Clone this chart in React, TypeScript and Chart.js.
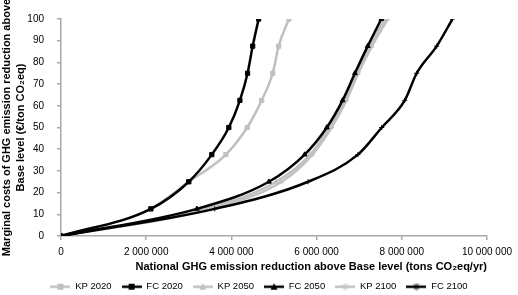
import React, { useEffect, useRef } from "react";
import { Chart, registerables } from "chart.js";

Chart.register(...registerables);

const costLevels = [0, 12.5, 25, 37.5, 50, 62.5, 75, 87.5, 100];

const kp2020 = [0, 2110000, 3000000, 3870000, 4370000, 4710000, 4970000, 5110000, 5350000];
const fc2020 = [0, 2110000, 3000000, 3540000, 3940000, 4200000, 4380000, 4500000, 4640000];
const kp2050 = [0, 3400000, 5050000, 5850000, 6300000, 6650000, 6930000, 7250000, 7600000];
const fc2050 = [0, 3190000, 4880000, 5720000, 6240000, 6610000, 6900000, 7200000, 7520000];
const kp2100 = [0, 3500000, 5180000, 5900000, 6350000, 6700000, 6980000, 7300000, 7670000];
const fc2100 = [0, 3610000, 5800000, 6970000, 7530000, 8070000, 8350000, 8820000, 9190000];

const seriesNames = ["KP 2020", "FC 2020", "KP 2050", "FC 2050", "KP 2100", "FC 2100"];
const seriesValues = [kp2020, fc2020, kp2050, fc2050, kp2100, fc2100];
const seriesColors = ["#c0c0c0", "#000000", "#c0c0c0", "#000000", "#c0c0c0", "#000000"];
const seriesMarkers = ["rect", "rect", "triangle", "triangle", "star", "cross"];

const xTicks = [0, 2000000, 4000000, 6000000, 8000000, 10000000];

const FONT = "'Liberation Sans', Arial, sans-serif";

function fmt(v: number): string {
  return String(Math.round(v)).replace(/\B(?=(\d{3})+(?!\d))/g, " ");
}

function legendIcon(color: string, marker: string): HTMLCanvasElement {
  const c = document.createElement("canvas");
  c.width = 20;
  c.height = 8;
  const ctx = c.getContext("2d")!;
  ctx.strokeStyle = color;
  ctx.fillStyle = color;
  ctx.lineWidth = 2.5;
  ctx.beginPath();
  ctx.moveTo(0, 4);
  ctx.lineTo(20, 4);
  ctx.stroke();
  ctx.lineWidth = 1;
  if (marker === "rect") {
    ctx.fillRect(7, 1, 6, 6);
  } else if (marker === "triangle") {
    ctx.beginPath();
    ctx.moveTo(10, 0.5);
    ctx.lineTo(13.5, 7);
    ctx.lineTo(6.5, 7);
    ctx.closePath();
    ctx.fill();
  } else {
    ctx.beginPath();
    ctx.moveTo(7.5, 1.5);
    ctx.lineTo(12.5, 6.5);
    ctx.moveTo(12.5, 1.5);
    ctx.lineTo(7.5, 6.5);
    ctx.moveTo(10, 0.5);
    ctx.lineTo(10, 7.5);
    ctx.stroke();
  }
  return c;
}

export default function App() {
  const ref = useRef<HTMLCanvasElement | null>(null);

  useEffect(() => {
    document.body.style.margin = "0";
    const canvas = ref.current!;
    const icons = seriesNames.map((_, i) => legendIcon(seriesColors[i], seriesMarkers[i]));
    const datasets = seriesNames.map((name, i) => ({
      label: name,
      data: seriesValues[i].map((x, j) => ({ x, y: costLevels[j] })),
      borderColor: seriesColors[i],
      backgroundColor: seriesColors[i],
      borderWidth: 2.5,
      pointStyle: seriesMarkers[i] as any,
      pointRadius: seriesMarkers[i] === "rect" ? 3 : seriesMarkers[i] === "triangle" ? 2.8 : 2.5,
      pointBorderWidth: 1,
      pointBorderColor: seriesColors[i],
      pointBackgroundColor: seriesColors[i],
      cubicInterpolationMode: "monotone" as const,
      order: i % 2 === 1 ? 0 : 1,
      fill: false,
    }));

    const chart = new Chart(canvas, {
      type: "line",
      data: { datasets },
      options: {
        animation: false,
        responsive: true,
        maintainAspectRatio: false,
        devicePixelRatio: 1,
        layout: { padding: { top: 18, left: 0, right: 0, bottom: 0 } },
        plugins: {
          tooltip: { enabled: false },
          legend: {
            position: "bottom",
            maxHeight: 23,
            labels: {
              usePointStyle: true,
              pointStyleWidth: 20,
              boxHeight: 8,
              padding: 10,
              color: "#000",
              font: { family: FONT, size: 9.5 },
              sort: (a: any, b: any) => a.datasetIndex - b.datasetIndex,
              generateLabels: (ch: any) =>
                ch.data.datasets.map((d: any, i: number) => ({
                  text: d.label,
                  pointStyle: icons[i],
                  fillStyle: seriesColors[i],
                  strokeStyle: seriesColors[i],
                  lineWidth: 0,
                  hidden: false,
                  datasetIndex: i,
                  fontColor: "#000",
                })),
            },
          },
        },
        scales: {
          x: {
            type: "linear",
            min: 0,
            max: 10000000,
            afterFit: (s: any) => {
              s.height = 36;
            },
            afterBuildTicks: (s: any) => {
              s.ticks = xTicks.map((v) => ({ value: v }));
            },
            ticks: {
              color: "#000",
              padding: 6,
              maxRotation: 0,
              font: { family: FONT, size: 10 },
              callback: (v: any) => fmt(Number(v)),
            },
            grid: { drawOnChartArea: false, drawTicks: true, tickLength: 4, color: "#a8a8a8", lineWidth: 1.5 },
            border: { color: "#a8a8a8", width: 1.5 },
            title: {
              display: true,
              align: "end",
              text: "National GHG emission reduction above Base level (tons CO₂eq/yr)",
              color: "#000",
              padding: { top: 2, bottom: -2 },
              font: { family: FONT, size: 11, weight: "bold", lineHeight: 1.2 },
            },
          },
          y: {
            min: 0,
            max: 100,
            afterFit: (s: any) => {
              s.width = 61;
            },
            ticks: {
              stepSize: 10,
              color: "#000",
              padding: 13,
              font: { family: FONT, size: 10 },
            },
            grid: { drawOnChartArea: false, drawTicks: true, tickLength: 4, color: "#a8a8a8", lineWidth: 1.5 },
            border: { color: "#a8a8a8", width: 1.5 },
            title: {
              display: true,
              text: ["Marginal costs of GHG emission reduction above", "Base level (€/ton CO₂eq)"],
              color: "#000",
              padding: { top: 0, bottom: 0 },
              font: { family: FONT, size: 11, weight: "bold", lineHeight: 1.3 },
            },
          },
        },
      },
    });
    return () => chart.destroy();
  }, []);

  return (
    <div style={{ position: "absolute", left: 0, top: 0, width: 518, height: 295 }}>
      <canvas ref={ref} />
    </div>
  );
}
